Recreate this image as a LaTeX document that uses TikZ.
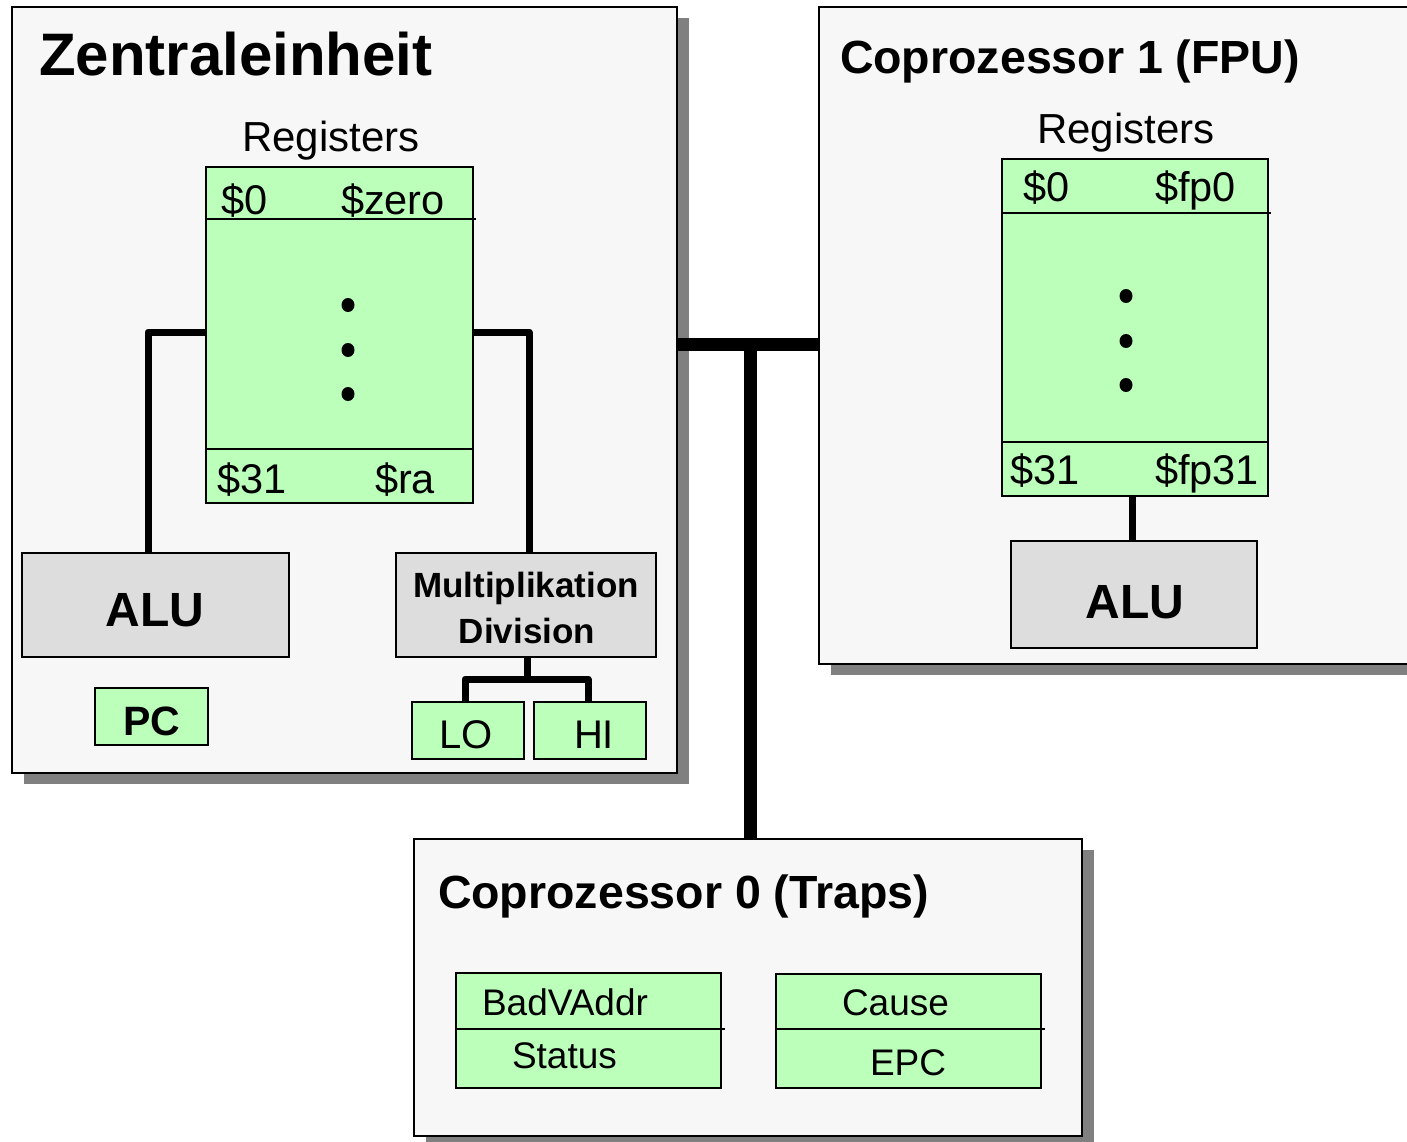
\documentclass[tikz,border=0pt]{standalone}
\usepackage{fontspec}
\setmainfont{Liberation Sans}
\usetikzlibrary{shadows}
\definecolor{panelfill}{HTML}{F7F7F7}
\definecolor{shadowgray}{HTML}{808080}
\definecolor{regfill}{HTML}{BBFFBB}
\definecolor{unitfill}{HTML}{DDDDDD}
\tikzset{
  panel/.style={draw=black, line width=2pt, fill=panelfill, inner sep=0pt, outer sep=0pt,
    anchor=north west,
    drop shadow={shadow xshift=12pt, shadow yshift=-11pt, opacity=1, fill=shadowgray}},
  regbox/.style={draw=black, line width=2pt, fill=regfill, inner sep=0pt, outer sep=0pt, anchor=north west},
  unitbox/.style={draw=black, line width=2pt, fill=unitfill, inner sep=0pt, outer sep=0pt, anchor=north west},
  wire/.style={line width=7pt, line join=round},
  bus/.style={line width=13pt},
  divider/.style={line width=2pt},
  txt/.style={inner sep=0pt, outer sep=0pt, anchor=base west},
  reglbl/.style={txt, font=\fontsize{41.5}{48}\selectfont},
  smalllbl/.style={txt, font=\fontsize{37}{44}\selectfont},
  title/.style={txt, font=\bfseries\fontsize{46.5}{54}\selectfont},
  unitlbl/.style={inner sep=0pt, outer sep=0pt, anchor=base, font=\bfseries\fontsize{48}{56}\selectfont},
}
\begin{document}
\begin{tikzpicture}[x=1pt, y=-1pt]
\useasboundingbox (0,0) rectangle (1407,1142);
\fill[white] (0,0) rectangle (1407,1142);
\clip (0,0) rectangle (1407,1142);

% ---- panels ----
\node[panel, minimum width=665pt, minimum height=766pt] (cpu) at (12,7) {};
\node[panel, minimum width=620pt, minimum height=657pt] (cop1) at (819,7) {};
\node[panel, minimum width=668pt, minimum height=297pt] (cop0) at (414,839) {};

% ---- bus between the three units ----
\coordinate (busy) at (0,344);
\coordinate (tap) at (750,344);
\draw[bus] (cpu.east |- busy) -- (cop1.west |- busy);
\draw[bus] (tap) -- (tap |- cop0.north);

% ---- Zentraleinheit ----
\node[txt, font=\bfseries\fontsize{60}{70}\selectfont] (cputitle) at (39,76) {Zentraleinheit};
\node[inner sep=0pt, anchor=base, font=\fontsize{42}{50}\selectfont] (cpuregs) at (331,152) {Registers};
\node[regbox, minimum width=267pt, minimum height=336pt] (reg1) at (206,167) {};
\draw[divider] (206,219) -- (476,219);
\draw[divider] (206,449) -- (473,449);
\node[reglbl] (r1a) at (221,214) {\$0};
\node[reglbl] (r1b) at (341,214) {\$zero};
\node[reglbl] (r1c) at (217,493) {\$31};
\node[reglbl] (r1d) at (375,493) {\$ra};
\foreach \yy in {305,350,394} \fill (348,\yy) ellipse (6.5pt and 7pt);

\node[unitbox, minimum width=267pt, minimum height=104pt] (alu1) at (22,553) {};
\node[unitlbl] (alu1t) at (155,626) {ALU};
\node[unitbox, minimum width=260pt, minimum height=104pt] (mul) at (396,553) {};
\node[inner sep=0pt, anchor=base, font=\bfseries\fontsize{35}{42}\selectfont] (mult1) at (526,597) {Multiplikation};
\node[inner sep=0pt, anchor=base, font=\bfseries\fontsize{35}{42}\selectfont] (mult2) at (527,643) {Division};

\node[regbox, minimum width=113pt, minimum height=57pt] (pc) at (95,688) {};
\node[inner sep=0pt, anchor=base, font=\bfseries\fontsize{41}{48}\selectfont] (pct) at (152,735) {PC};
\node[regbox, minimum width=112pt, minimum height=57pt] (lo) at (412,702) {};
\node[inner sep=0pt, anchor=base, font=\fontsize{40}{46}\selectfont] (lot) at (466,748) {LO};
\node[regbox, minimum width=112pt, minimum height=57pt] (hi) at (534,702) {};
\node[inner sep=0pt, anchor=base, font=\fontsize{40}{46}\selectfont] (hit) at (594,748) {HI};

% register file to ALU and to multiply/divide unit
\coordinate (lk) at (148,332);
\coordinate (rk) at (529,332);
\draw[wire] (reg1.west |- lk) -| (alu1.north -| lk);
\draw[wire] (reg1.east |- rk) -| (mul.north -| rk);
% multiply/divide unit to LO and HI
\coordinate (mk) at (527,679);
\coordinate (lox) at (465,0);
\coordinate (hix) at (588,0);
\draw[wire] (mul.south -| mk) -- (mk);
\draw[wire] (lo.north -| lox) -- (lox |- mk) -- (hix |- mk) -- (hi.north -| hix);

% ---- Coprozessor 1 (FPU) ----
\node[title] (cop1title) at (840,74) {Coprozessor 1 (FPU)};
\node[inner sep=0pt, anchor=base, font=\fontsize{42}{50}\selectfont] (fpuregs) at (1126,144) {Registers};
\node[regbox, minimum width=266pt, minimum height=337pt] (reg2) at (1002,159) {};
\draw[divider] (1002,213) -- (1271,213);
\draw[divider] (1002,442) -- (1268,442);
\node[reglbl] (r2a) at (1023,201) {\$0};
\node[reglbl] (r2b) at (1155,201) {\$fp0};
\node[reglbl] (r2c) at (1010,484) {\$31};
\node[reglbl] (r2d) at (1155,484) {\$fp31};
\foreach \yy in {296,341,385} \fill (1126,\yy) ellipse (6.5pt and 7pt);

\node[unitbox, minimum width=246pt, minimum height=107pt] (alu2) at (1011,541) {};
\node[unitlbl] (alu2t) at (1135,618) {ALU};
\coordinate (fk) at (1132,0);
\draw[wire] (reg2.south -| fk) -- (alu2.north -| fk);

% ---- Coprozessor 0 (Traps) ----
\node[title] (cop0title) at (438,908) {Coprozessor 0 (Traps)};
\node[regbox, minimum width=265pt, minimum height=115pt] (bva) at (456,973) {};
\draw[divider] (456,1029) -- (725,1029);
\node[smalllbl] (bvat) at (482,1015) {BadVAddr};
\node[smalllbl] (stat) at (512,1068) {Status};
\node[regbox, minimum width=265pt, minimum height=114pt] (cause) at (776,974) {};
\draw[divider] (776,1029) -- (1045,1029);
\node[smalllbl] (caut) at (842,1015) {Cause};
\node[smalllbl] (epct) at (870,1075) {EPC};
\end{tikzpicture}
\end{document}
